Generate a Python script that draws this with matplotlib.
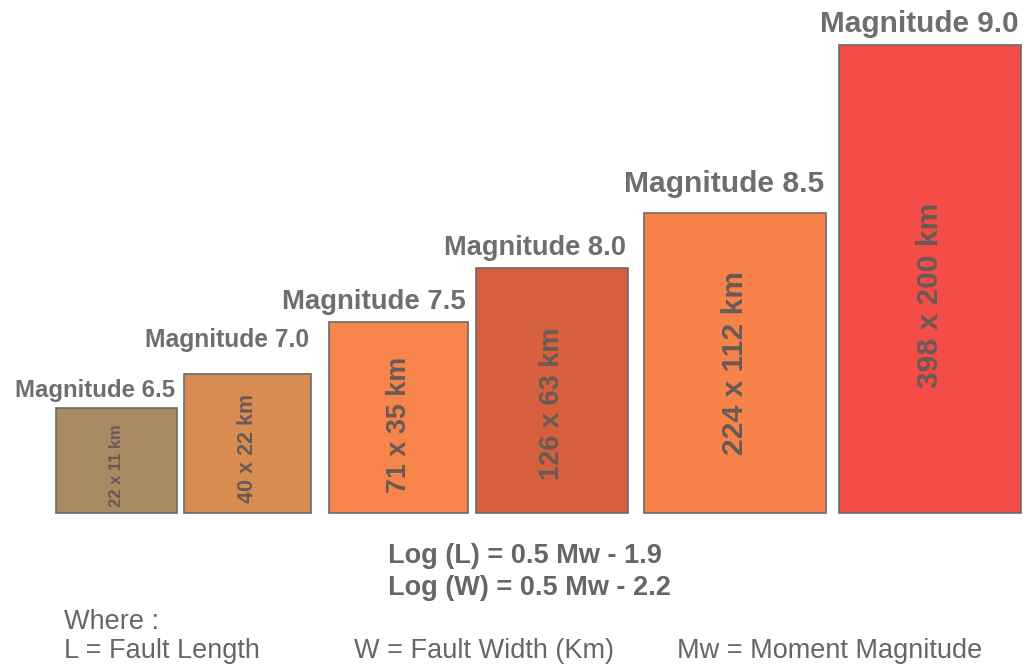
import matplotlib.pyplot as plt
from matplotlib import font_manager

# data
magnitudes = ["6.5", "7.0", "7.5", "8.0", "8.5", "9.0"]
fault_length_km = [22, 40, 71, 126, 224, 398]
fault_width_km = [11, 22, 35, 63, 112, 200]
# schematic box size as drawn (not to scale with km values)
box_width = [121, 127, 139, 152, 182, 182]
box_height = [105, 139, 191, 245, 300, 468]

colors = ["#a88a62", "#d98c52", "#f7844a", "#d6603e", "#f7824a", "#f44d47"]
label_sizes = [17.3, 17.7, 19.8, 19.6, 21.6, 21.4]
label_gap = [11, 27, 13, 13, 21, 13]
inner_sizes = [11.9, 15.5, 19.4, 19.5, 21.6, 21.6]
inner_offset = [-5.5, -4.5, -7.5, -13.5, 0, -16]
gap = [0, 7, 18, 8, 16, 13]
text_color = "#6e6e6e"

names = {f.name for f in font_manager.fontManager.ttflist}
narrow = "Liberation Sans Narrow" if "Liberation Sans Narrow" in names else "Liberation Sans"
plt.rcParams['font.family'] = ['Liberation Sans', 'DejaVu Sans']

fig = plt.figure(figsize=(10.24, 6.68), dpi=100)
ax = fig.add_axes([0, 0, 1, 1])
ax.set_xlim(0, 1024)
ax.set_ylim(0, 668)
ax.axis("off")

base = 155
lefts = []
x = 56
for i in range(len(magnitudes)):
    x += gap[i]
    lefts.append(x)
    x += box_width[i]

ax.bar(lefts, box_height, width=box_width, bottom=base, align="edge",
       color=colors, edgecolor="#6a6a6a", linewidth=1.2)

for i, m in enumerate(magnitudes):
    right = lefts[i] + box_width[i]
    top = base + box_height[i]
    ax.text(right - 2, top + label_gap[i], f"Magnitude {m}", ha="right", va="baseline",
            fontsize=label_sizes[i], fontweight="bold", color=text_color)
    cx = lefts[i] + box_width[i] / 2
    ax.text(cx, base + box_height[i] / 2 + inner_offset[i],
            f"{fault_length_km[i]} x {fault_width_km[i]} km",
            rotation=90, ha="center", va="center",
            fontsize=inner_sizes[i], fontweight="bold", color="#6a5a55")

ax.text(388, 668 - 556, "Log (L) = 0.5 Mw - 1.9", fontsize=19.5,
        fontweight="bold", color="#666666", va="center", ha="left")
ax.text(388, 668 - 588, "Log (W) = 0.5 Mw - 2.2", fontsize=19.5,
        fontweight="bold", color="#666666", va="center", ha="left")

foot = 19.5 if narrow == "Liberation Sans" else 22
ax.text(64, 668 - 622, "Where :", family=narrow, fontsize=foot, color="#666666", va="center")
ax.text(64, 668 - 651, "L = Fault Length", family=narrow, fontsize=foot, color="#666666", va="center")
ax.text(354, 668 - 651, "W = Fault Width (Km)", family=narrow, fontsize=foot, color="#666666", va="center")
ax.text(677, 668 - 651, "Mw = Moment Magnitude", family=narrow, fontsize=foot, color="#666666", va="center")

fig.savefig("out.png", dpi=100, facecolor="white")
